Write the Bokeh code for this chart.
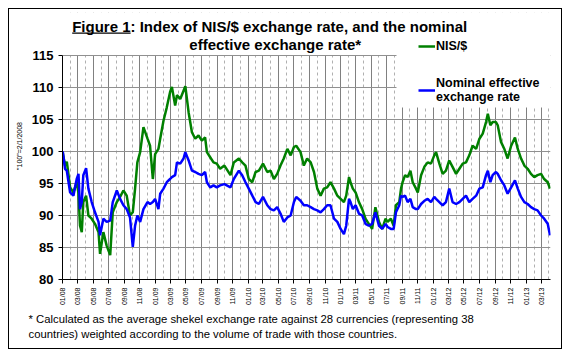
import math
import pandas as pd
from bokeh.plotting import figure
from bokeh.models import (Range1d, FixedTicker, DatetimeTickFormatter, Legend, LegendItem,
                          Label, BoxAnnotation, ColumnDataSource, Title)
from bokeh.embed import file_html
from bokeh.resources import INLINE

# ---------------- data ----------------
dates = [
    "2008-01-02", "2008-01-11", "2008-01-18", "2008-01-31", "2008-02-13", "2008-02-26", "2008-03-04",
    "2008-03-10", "2008-03-17", "2008-03-23", "2008-04-03", "2008-04-12", "2008-04-25", "2008-05-08",
    "2008-05-22", "2008-05-28", "2008-06-10", "2008-06-23", "2008-07-07", "2008-07-17", "2008-08-02",
    "2008-08-15", "2008-08-28", "2008-09-10", "2008-09-23", "2008-10-04", "2008-10-13", "2008-10-22",
    "2008-11-02", "2008-11-15", "2008-12-01", "2008-12-11", "2008-12-22", "2008-12-31", "2009-01-13",
    "2009-01-20", "2009-02-02", "2009-02-15", "2009-02-28", "2009-03-07", "2009-03-20", "2009-03-27",
    "2009-04-09", "2009-04-22", "2009-04-29", "2009-05-12", "2009-05-25", "2009-06-07", "2009-06-20",
    "2009-07-03", "2009-07-16", "2009-07-23", "2009-08-05", "2009-08-18", "2009-08-31", "2009-09-13",
    "2009-09-30", "2009-10-24", "2009-11-06", "2009-11-26", "2009-12-09", "2009-12-22", "2010-01-04",
    "2010-01-18", "2010-01-31", "2010-02-13", "2010-03-01", "2010-03-18", "2010-03-31", "2010-04-13",
    "2010-04-26", "2010-05-09", "2010-05-22", "2010-06-05", "2010-06-18", "2010-07-01", "2010-07-10",
    "2010-07-27", "2010-08-09", "2010-08-22", "2010-09-05", "2010-09-18", "2010-10-01", "2010-10-14",
    "2010-10-27", "2010-11-09", "2010-11-22", "2010-12-06", "2010-12-19", "2011-01-01", "2011-01-14",
    "2011-01-23", "2011-02-03", "2011-02-09", "2011-02-18", "2011-03-01", "2011-03-14", "2011-03-27",
    "2011-04-09", "2011-04-22", "2011-05-05", "2011-05-18", "2011-06-01", "2011-06-14", "2011-06-27",
    "2011-07-05", "2011-07-18", "2011-07-29", "2011-08-07", "2011-08-20", "2011-08-27", "2011-09-02",
    "2011-09-12", "2011-09-22", "2011-10-03", "2011-10-12", "2011-10-25", "2011-11-01", "2011-11-14",
    "2011-11-27", "2011-12-10", "2011-12-23", "2012-01-05", "2012-01-12", "2012-01-25", "2012-02-07",
    "2012-02-20", "2012-03-04", "2012-03-17", "2012-03-31", "2012-04-13", "2012-04-26", "2012-05-09",
    "2012-05-22", "2012-06-04", "2012-06-18", "2012-07-01", "2012-07-14", "2012-07-27", "2012-08-03",
    "2012-08-13", "2012-08-22", "2012-09-04", "2012-09-11", "2012-09-24", "2012-10-07", "2012-10-20",
    "2012-11-03", "2012-11-18", "2012-11-29", "2012-12-12", "2012-12-25", "2013-01-07", "2013-01-20",
    "2013-02-02", "2013-02-15", "2013-03-01", "2013-03-13", "2013-03-27", "2013-04-05",
]

nis_usd = [
    99.8, 97.8, 98.4, 94.4, 93.6, 95.2, 93.5,
    88.4, 87.4, 92.1, 93.1, 90.0, 89.5, 88.7,
    87.4, 84.0, 87.4, 85.3, 83.8, 90.5, 92.1,
    92.9, 93.9, 93.1, 90.0, 90.5, 94.2, 98.3,
    99.9, 103.8, 102.0, 100.9, 95.7, 99.6, 100.4,
    102.0, 104.8, 106.9, 109.3, 110.1, 107.2, 108.8,
    108.2, 109.5, 110.2, 106.1, 103.0, 102.0, 102.5,
    101.7, 102.2, 99.9, 99.1, 98.3, 98.1, 97.3,
    97.8, 96.3, 98.3, 98.9, 98.3, 97.8, 95.7,
    95.2, 96.8, 97.0, 98.1, 96.8, 97.0, 95.7,
    96.5, 97.8, 98.9, 100.4, 99.4, 100.7, 100.9,
    99.9, 97.8, 98.9, 98.3, 96.8, 94.2, 93.1,
    94.2, 94.4, 95.2, 94.2, 93.1, 92.6, 92.1,
    93.1, 96.0, 95.2, 94.2, 93.6, 92.1, 91.0,
    89.5, 88.7, 87.9, 91.3, 89.0, 87.9, 89.5,
    89.0, 89.5, 88.4, 91.6, 92.1, 94.2, 95.2,
    96.3, 96.0, 97.0, 95.2, 94.2, 93.6, 96.3,
    97.6, 98.3, 98.1, 99.4, 99.9, 98.1, 96.5,
    97.0, 98.6, 97.6, 96.5, 97.3, 98.1, 98.3,
    99.4, 100.9, 100.4, 102.0, 102.8, 104.6, 105.9,
    104.1, 104.6, 104.6, 104.1, 101.5, 100.4, 98.9,
    100.9, 102.2, 100.4, 98.9, 97.8, 97.3, 96.5,
    96.0, 96.3, 96.5, 95.7, 95.2, 94.2,
]

nominal_effective = [
    100.0, 97.3, 97.0, 93.6, 93.1, 95.7, 96.5,
    91.0, 92.1, 96.3, 97.4, 94.2, 92.1, 90.5,
    89.0, 86.9, 89.5, 89.0, 89.2, 92.1, 93.9,
    92.6, 91.6, 91.0, 89.7, 85.1, 88.4, 90.0,
    89.0, 91.0, 92.1, 91.8, 92.1, 92.6, 91.0,
    93.4, 94.2, 95.2, 95.7, 96.0, 96.3, 98.3,
    98.1, 98.9, 99.9, 98.6, 97.0, 96.8, 96.5,
    96.3, 96.8, 95.2, 94.4, 94.7, 94.4, 94.7,
    94.9, 94.4, 95.7, 97.0, 96.3, 95.2, 94.2,
    93.1, 92.1, 91.8, 92.9, 91.6, 91.0, 90.8,
    91.3, 90.3, 89.0, 89.7, 90.0, 92.1, 92.9,
    92.3, 91.6, 91.6, 91.3, 91.0, 90.8, 90.5,
    91.0, 91.6, 91.6, 89.5, 89.0, 87.9, 87.1,
    88.4, 92.6, 92.1, 91.0, 91.6, 90.3, 90.0,
    88.7, 88.4, 88.7, 90.5, 88.4, 87.9, 88.7,
    88.2, 87.9, 87.9, 90.5, 91.6, 93.1, 92.9,
    93.1, 92.1, 92.6, 91.3, 91.0, 91.0, 91.8,
    92.3, 92.6, 92.1, 92.9, 92.6, 92.1, 91.6,
    92.1, 94.2, 92.1, 91.8, 92.1, 92.6, 93.1,
    92.1, 92.6, 93.1, 94.2, 94.4, 96.3, 97.0,
    95.2, 96.3, 96.8, 96.5, 95.5, 94.7, 93.4,
    94.4, 95.5, 94.2, 92.9, 92.1, 91.8, 91.3,
    91.0, 90.8, 90.0, 89.5, 88.7, 86.9,
]

x_tick_labels = [
    "01/08", "03/08", "05/08", "07/08", "09/08", "11/08",
    "01/09", "03/09", "05/09", "07/09", "09/09", "11/09",
    "01/10", "03/10", "05/10", "07/10", "09/10", "11/10",
    "01/11", "03/11", "05/11", "07/11", "09/11", "11/11",
    "01/12", "03/12", "05/12", "07/12", "09/12", "11/12",
    "01/13", "03/13",
]
y_ticks = [80, 85, 90, 95, 100, 105, 110, 115]

series_names = ["NIS/$", "Nominal effective\nexchange rate"]
series_colors = ["#008000", "#0000FF"]

title_line1 = "Figure 1: Index of NIS/$ exchange rate, and the nominal"
title_line2 = "effective exchange rate*"
footnote = ("* Calculated as the average shekel exchange rate against 28 currencies (representing 38\n"
            "countries) weighted according to the volume of trade with those countries.")
y_title = '"100"=2/1/2008'

# ---------------- build ----------------
FONT = "Liberation Sans"
dt = pd.to_datetime(dates)
src = ColumnDataSource(dict(date=dt, nis=nis_usd, nominal=nominal_effective))


def to_ms(ts):
    return (ts - pd.Timestamp("1970-01-01")) / pd.Timedelta(milliseconds=1)


major_dates = [pd.to_datetime(lbl, format="%m/%y") for lbl in x_tick_labels]
minor_dates = [d + pd.DateOffset(months=1) for d in major_dates]
major_ms = [to_ms(d) for d in major_dates]
minor_ms = [to_ms(d) for d in minor_dates]

x_start = dt[0] - pd.Timedelta(days=1)
x_end = dt[-1] + pd.Timedelta(days=2)

# the frame is extended above the top tick so that the title and legend can sit inside it
PX_PER_UNIT = 6.4
y_top = y_ticks[-1] + 43 / PX_PER_UNIT

p = figure(width=554, height=341, x_axis_type="datetime", output_backend="svg",
           toolbar_location=None,
           x_range=Range1d(start=x_start, end=x_end),
           y_range=Range1d(start=y_ticks[0], end=y_top),
           min_border_left=53, min_border_right=13, min_border_top=3, min_border_bottom=71,
           background_fill_color="white", border_fill_color="white",
           outline_line_color=None,
           styles={"border": "1px solid black"})
p.margin = (8, 0, 0, 8)

r1 = p.line(x="date", y="nis", source=src, line_color=series_colors[0], line_width=2.5)
r2 = p.line(x="date", y="nominal", source=src, line_color=series_colors[1], line_width=2.5)

# x axis
xt = FixedTicker(ticks=major_ms, minor_ticks=minor_ms)
p.xaxis.ticker = xt
p.xgrid.ticker = xt
fmt = "%m/%y"
p.xaxis.formatter = DatetimeTickFormatter(microseconds=fmt, milliseconds=fmt, seconds=fmt, minsec=fmt,
                                          minutes=fmt, hourmin=fmt, hours=fmt, days=fmt,
                                          months=fmt, years=fmt)
p.xaxis.major_label_orientation = math.pi / 2
p.xaxis.major_label_text_font = FONT
p.xaxis.major_label_text_font_size = "7px"
p.xaxis.major_label_text_color = "black"
p.xaxis.major_label_standoff = 4
p.xaxis.major_tick_in = 0
p.xaxis.major_tick_out = 4
p.xaxis.minor_tick_line_color = None
p.xaxis.axis_line_color = "black"
p.xaxis.major_tick_line_color = "black"

# y axis
yt = FixedTicker(ticks=y_ticks)
p.yaxis.ticker = yt
p.ygrid.ticker = yt
p.yaxis.bounds = (y_ticks[0], y_ticks[-1])
p.yaxis.major_label_text_font = FONT
p.yaxis.major_label_text_font_style = "bold"
p.yaxis.major_label_text_font_size = "13px"
p.yaxis.major_label_text_color = "black"
p.yaxis.major_label_standoff = 5
p.yaxis.major_tick_in = 0
p.yaxis.major_tick_out = 4
p.yaxis.minor_tick_line_color = None
p.yaxis.axis_line_color = "black"
p.yaxis.major_tick_line_color = "black"
p.yaxis.axis_label = y_title
p.yaxis.axis_label_text_font = FONT
p.yaxis.axis_label_text_font_style = "normal"
p.yaxis.axis_label_text_font_size = "7px"
p.yaxis.axis_label_text_color = "black"
p.yaxis.axis_label_standoff = 6

# grids
p.xgrid.grid_line_color = "#808080"
p.xgrid.grid_line_width = 1
p.xgrid.minor_grid_line_color = "#b0b0b0"
p.xgrid.minor_grid_line_dash = "3 3"
p.ygrid.grid_line_color = "#909090"
p.ygrid.grid_line_width = 1

# blank band above the top tick (title area), and white area behind the legend
p.add_layout(BoxAnnotation(bottom=224.5, bottom_units="screen",
                           fill_color="white", fill_alpha=1.0, line_color=None))
p.add_layout(BoxAnnotation(left=334, left_units="screen", bottom=172, bottom_units="screen",
                           fill_color="white", fill_alpha=1.0, line_color=None))

legend = Legend(items=[LegendItem(label=series_names[0], renderers=[r1]),
                       LegendItem(label=series_names[1], renderers=[r2])],
                location=(356, 175), orientation="vertical",
                background_fill_alpha=0, border_line_color=None,
                padding=0, margin=0, spacing=23,
                glyph_width=17, glyph_height=14, label_height=14, label_standoff=1,
                label_text_font=FONT, label_text_font_style="bold",
                label_text_font_size="12.5px", label_text_color="black")
p.add_layout(legend)

# title (two lines, "Figure 1" underlined)
title_kw = dict(x_units="screen", y_units="screen", text_font=FONT, text_font_style="bold",
                text_font_size="15px", text_color="black", text_baseline="middle")
p.add_layout(Label(x=9.7, y=253, text=title_line1, text_align="left", **title_kw))
p.add_layout(Label(x=212.7, y=235, text=title_line2, text_align="center", **title_kw))
p.add_layout(BoxAnnotation(left=9.7, right=68.1, top=247, bottom=245.8,
                           left_units="screen", right_units="screen",
                           top_units="screen", bottom_units="screen",
                           fill_color="black", fill_alpha=1.0, line_color=None))

# footnote below the axis
p.add_layout(Title(text=footnote, align="left", offset=-34, standoff=4,
                   text_font=FONT, text_font_style="normal", text_font_size="11.3px",
                   text_color="black", text_line_height=1.3), "below")

open("out.html", "w").write(file_html(p, INLINE))
